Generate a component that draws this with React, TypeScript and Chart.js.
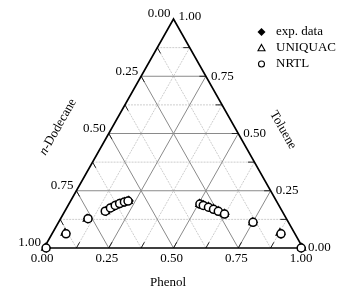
import React, { useEffect, useRef } from "react";
import { Chart, registerables } from "chart.js";

Chart.register(...registerables);

// ---- data (ternary mass fractions: phenol, toluene; n-dodecane = 1 - phenol - toluene) ----
const expPhenol = [0.010, 0.052, 0.105, 0.160, 0.172, 0.185, 0.198, 0.214, 0.226, 0.995, 0.885, 0.752, 0.508, 0.525, 0.547, 0.571, 0.594, 0.625];
const expToluene = [0.000, 0.063, 0.128, 0.160, 0.175, 0.186, 0.194, 0.201, 0.206, 0.000, 0.060, 0.112, 0.191, 0.185, 0.178, 0.169, 0.160, 0.148];

const uniquacPhenol = [0.006, 0.048, 0.103, 0.158, 0.170, 0.183, 0.197, 0.212, 0.223, 0.995, 0.878, 0.750, 0.505, 0.523, 0.545, 0.569, 0.592, 0.622];
const uniquacToluene = [0.000, 0.066, 0.127, 0.160, 0.174, 0.185, 0.193, 0.200, 0.205, 0.000, 0.066, 0.112, 0.192, 0.186, 0.179, 0.170, 0.161, 0.149];

const nrtlPhenol = [0.008, 0.054, 0.106, 0.156, 0.169, 0.182, 0.195, 0.210, 0.222, 0.993, 0.884, 0.751, 0.506, 0.522, 0.546, 0.570, 0.593, 0.623];
const nrtlToluene = [0.000, 0.062, 0.128, 0.161, 0.175, 0.186, 0.194, 0.201, 0.205, 0.000, 0.062, 0.112, 0.192, 0.186, 0.178, 0.169, 0.160, 0.148];

const seriesNames = ["exp. data", "UNIQUAC", "NRTL"];

const majorTicks = [0.25, 0.5, 0.75];
const minorTicks = [0.125, 0.375, 0.625, 0.875];
const tickValues = [0, 0.25, 0.5, 0.75, 1];
const phenolLabels = ["0.00", "0.25", "0.50", "0.75", "1.00"];
const dodecaneLabels = ["0.00", "0.25", "0.50", "0.75", "1.00"];
const tolueneLabels = ["0.00", "0.25", "0.50", "0.75", "1.00"];

const axisPhenol = "Phenol";
const axisToluene = "Toluene";
const axisDodecane = "-Dodecane";

// ternary -> cartesian (x along base, y = height fraction)
const toXY = (p: number, t: number) => ({ x: p + t / 2, y: t });

const FONT = "13px 'Liberation Serif', 'Times New Roman', serif";

function lineDs(pts: { x: number; y: number }[], color: string, width: number, dash: number[] = []) {
  return {
    type: "scatter" as const,
    data: pts,
    showLine: true,
    borderColor: color,
    borderWidth: width,
    borderDash: dash,
    pointRadius: 0,
    pointHoverRadius: 0,
    fill: false,
    clip: false as any,
  };
}

const labelPlugin = {
  id: "ternaryLabels",
  afterDraw(chart: any) {
    const ctx = chart.ctx as CanvasRenderingContext2D;
    const xs = chart.scales.x;
    const ys = chart.scales.y;
    const px = (p: number, t: number) => {
      const c = toXY(p, t);
      return [xs.getPixelForValue(c.x), ys.getPixelForValue(c.y)];
    };
    ctx.save();
    ctx.fillStyle = "#000";
    ctx.font = FONT;
    // bottom: phenol
    ctx.textAlign = "center";
    ctx.textBaseline = "middle";
    tickValues.forEach((v, i) => {
      const [x, y] = px(v, 0);
      ctx.fillText(phenolLabels[i], x - 2, y + 11);
    });
    // left: dodecane (d = v at p=0, t=1-v)
    ctx.textAlign = "right";
    tickValues.forEach((v, i) => {
      const [x, y] = px(0, 1 - v);
      ctx.fillText(dodecaneLabels[i], x - 3, y - 5);
    });
    // right: toluene (t = v at p = 1-v)
    ctx.textAlign = "left";
    tickValues.forEach((v, i) => {
      const [x, y] = px(1 - v, v);
      ctx.fillText(tolueneLabels[i], x + 5, y - (v === 1 ? 2 : 0));
    });

    // axis titles
    ctx.textAlign = "center";
    ctx.fillText(axisPhenol, 168, 283);

    const [lx0, ly0] = px(0, 0);
    const [lx1, ly1] = px(0, 1);
    const angL = Math.atan2(ly1 - ly0, lx1 - lx0);
    ctx.save();
    ctx.translate(58, 127);
    ctx.rotate(angL);
    ctx.font = "italic " + FONT;
    const wn = ctx.measureText("n").width;
    ctx.font = FONT;
    const wr = ctx.measureText(axisDodecane).width;
    const start = -(wn + wr) / 2;
    ctx.textAlign = "left";
    ctx.font = "italic " + FONT;
    ctx.fillText("n", start, 0);
    ctx.font = FONT;
    ctx.fillText(axisDodecane, start + wn, 0);
    ctx.restore();

    const [rx0, ry0] = px(0, 1);
    const [rx1, ry1] = px(1, 0);
    const angR = Math.atan2(ry1 - ry0, rx1 - rx0);
    ctx.save();
    ctx.translate(283, 130);
    ctx.rotate(angR);
    ctx.textAlign = "center";
    ctx.fillText(axisToluene, 0, 0);
    ctx.restore();

    // legend
    const lx = 261.5;
    const rows = [32, 48, 64];
    ctx.textAlign = "left";
    ctx.textBaseline = "middle";
    rows.forEach((ry, i) => {
      ctx.fillStyle = "#000";
      ctx.fillText(seriesNames[i], 276, ry);
    });
    ctx.lineWidth = 1.1;
    ctx.strokeStyle = "#000";
    // diamond
    ctx.beginPath();
    ctx.moveTo(lx, rows[0] - 4);
    ctx.lineTo(lx + 4, rows[0]);
    ctx.lineTo(lx, rows[0] + 4);
    ctx.lineTo(lx - 4, rows[0]);
    ctx.closePath();
    ctx.fill();
    // triangle
    ctx.beginPath();
    ctx.moveTo(lx, rows[1] - 3.5);
    ctx.lineTo(lx + 3.5, rows[1] + 2.8);
    ctx.lineTo(lx - 3.5, rows[1] + 2.8);
    ctx.closePath();
    ctx.stroke();
    // circle
    ctx.beginPath();
    ctx.arc(lx, rows[2], 3, 0, Math.PI * 2);
    ctx.stroke();
    ctx.restore();
  },
};

export default function App() {
  const ref = useRef<HTMLCanvasElement | null>(null);
  useEffect(() => {
    document.body.style.margin = "0";
    if (!ref.current) return;

    const datasets: any[] = [];
    // markers (first = drawn on top)
    datasets.push({
      type: "scatter",
      label: seriesNames[2],
      data: nrtlPhenol.map((p, i) => toXY(p, nrtlToluene[i])),
      pointStyle: "circle",
      pointRadius: 4,
      backgroundColor: "#fff",
      borderColor: "#000",
      borderWidth: 1.5,
      clip: false,
    });
    datasets.push({
      type: "scatter",
      label: seriesNames[1],
      data: uniquacPhenol.map((p, i) => toXY(p, uniquacToluene[i])),
      pointStyle: "triangle",
      pointRadius: 4.3,
      backgroundColor: "#fff",
      borderColor: "#000",
      borderWidth: 1.4,
      clip: false,
    });
    datasets.push({
      type: "scatter",
      label: seriesNames[0],
      data: expPhenol.map((p, i) => toXY(p, expToluene[i])),
      pointStyle: "rectRot",
      pointRadius: 4.2,
      backgroundColor: "#000",
      borderColor: "#000",
      borderWidth: 1,
      clip: false,
    });

    // outline
    datasets.push(lineDs([toXY(0, 0), toXY(1, 0), toXY(0, 1), toXY(0, 0)], "#000", 1.6));

    // ticks
    const L = 0.025;
    [...majorTicks, ...minorTicks].forEach((v) => {
      datasets.push(lineDs([toXY(v, 0), toXY(v, L)], "#222", 1));
      datasets.push(lineDs([toXY(1 - v, v), toXY(1 - v - L, v)], "#222", 1));
      datasets.push(lineDs([toXY(0, 1 - v), toXY(L, 1 - v - L)], "#222", 1));
    });

    // major grid
    majorTicks.forEach((v) => {
      datasets.push(lineDs([toXY(0, v), toXY(1 - v, v)], "#8a8a8a", 1));
      datasets.push(lineDs([toXY(v, 0), toXY(v, 1 - v)], "#8a8a8a", 1));
      datasets.push(lineDs([toXY(1 - v, 0), toXY(0, 1 - v)], "#8a8a8a", 1));
    });
    // minor grid
    minorTicks.forEach((v) => {
      datasets.push(lineDs([toXY(0, v), toXY(1 - v, v)], "#cdcdcd", 1, [2, 1]));
      datasets.push(lineDs([toXY(v, 0), toXY(v, 1 - v)], "#cdcdcd", 1, [2, 1]));
      datasets.push(lineDs([toXY(1 - v, 0), toXY(0, 1 - v)], "#cdcdcd", 1, [2, 1]));
    });

    const chart = new Chart(ref.current, {
      type: "scatter",
      data: { datasets },
      options: {
        animation: false,
        responsive: false,
        devicePixelRatio: 1,
        layout: { padding: { left: 44, right: 43, top: 19, bottom: 46 } },
        scales: {
          x: { type: "linear", min: 0, max: 1, display: false },
          y: { type: "linear", min: 0, max: 1, display: false },
        },
        plugins: { legend: { display: false }, tooltip: { enabled: false } },
        events: [],
      },
      plugins: [labelPlugin],
    } as any);
    return () => chart.destroy();
  }, []);

  return (
    <div style={{ width: 346, height: 294, background: "#fff" }}>
      <canvas ref={ref} width={346} height={294} />
    </div>
  );
}
